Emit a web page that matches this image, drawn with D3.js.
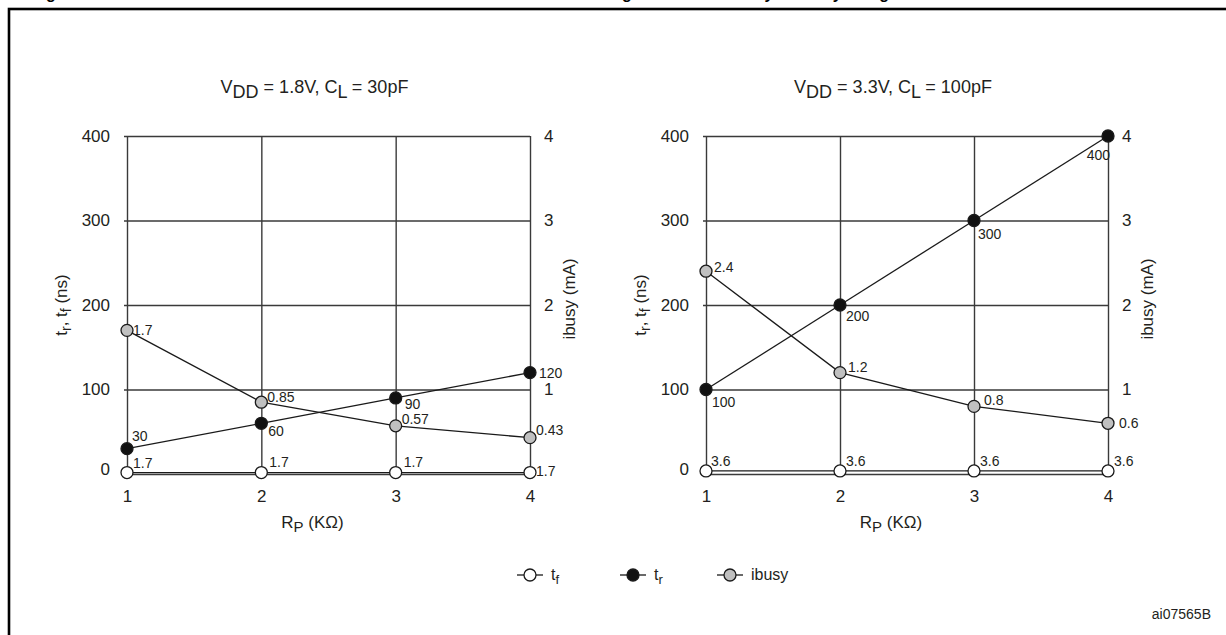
<!DOCTYPE html>
<html><head><meta charset="utf-8">
<script src="https://cdn.jsdelivr.net/npm/d3@7"></script>
<style>
html,body{margin:0;padding:0;background:#fff;}
svg{display:block;font-family:Arial,"Liberation Sans",sans-serif;}
</style></head>
<body><svg id="c" width="1226" height="635"></svg>
<script>
// ---- data ----
const rpValues = [1, 2, 3, 4];
const yTicksNs = [0, 100, 200, 300, 400];
const yTicksMa = [1, 2, 3, 4];
const xTicks = [1, 2, 3, 4];
// panel A: VDD = 1.8V, CL = 30pF
const tfA = [1.7, 1.7, 1.7, 1.7];
const trA = [30, 60, 90, 120];
const ibusyA = [1.7, 0.85, 0.57, 0.43];
// panel B: VDD = 3.3V, CL = 100pF
const tfB = [3.6, 3.6, 3.6, 3.6];
const trB = [100, 200, 300, 400];
const ibusyB = [2.4, 1.2, 0.8, 0.6];
const tfLabelsA = ["1.7", "1.7", "1.7", "1.7"];
const trLabelsA = ["30", "60", "90", "120"];
const ibLabelsA = ["1.7", "0.85", "0.57", "0.43"];
const tfLabelsB = ["3.6", "3.6", "3.6", "3.6"];
const trLabelsB = ["100", "200", "300", "400"];
const ibLabelsB = ["2.4", "1.2", "0.8", "0.6"];

// ---- layout ----
const svg = d3.select("#c");
const TXT = "#231f20", LINE = "#1a1a1a", GRID = "#3a3a3a";

// outer frame
svg.append("rect").attr("x", 9).attr("y", 9).attr("width", 1240).attr("height", 650)
  .attr("fill", "none").attr("stroke", "#000").attr("stroke-width", 2.6);
// figure title (mostly cut off at the top)
svg.append("text").attr("x", 22).attr("y", -1.5).attr("font-weight", "bold").attr("font-size", 16)
  .attr("textLength", 905).attr("lengthAdjust", "spacing").attr("fill", "#000")
  .text("Figure 37. Resistor value versus waveform timings for Ready/Busy signal");

const panels = [
  {x0: 127, x1: 530, vdd: "1.8V", cl: "30pF", tf: tfA, tr: trA, ib: ibusyA,
   tfL: tfLabelsA, trL: trLabelsA, ibL: ibLabelsA,
   tfOff: [[6,-9],[8,-10],[8,-10],[6,-1]],
   trOff: [[5,-13],[7,8],[9,6],[9,0]],
   trAnchor: ["start","start","start","start"],
   ibOff: [[6,0],[6,-5],[6,-7],[6,-8]]},
  {x0: 706, x1: 1108, vdd: "3.3V", cl: "100pF", tf: tfB, tr: trB, ib: ibusyB,
   tfL: tfLabelsB, trL: trLabelsB, ibL: ibLabelsB,
   tfOff: [[5,-10],[6,-10],[6,-10],[6,-10]],
   trOff: [[6,13],[6,11],[4,14],[2,19]],
   trAnchor: ["start","start","start","end"],
   ibOff: [[8,-4],[8,-6],[10,-6],[11,0]]}
];
const yTop = 136, yBot = 474;

panels.forEach(p => {
  const g = svg.append("g");
  const x = d3.scaleLinear().domain([1, 4]).range([p.x0, p.x1]);
  const y = d3.scaleLinear().domain([0, 400]).range([yBot, yTop]);
  const yR = d3.scaleLinear().domain([0, 4]).range([yBot, yTop]);

  // horizontal grid + left axis
  const ax = g.append("g").attr("transform", `translate(${p.x0},0)`)
    .call(d3.axisLeft(y).tickValues(yTicksNs).tickSize(-(p.x1 - p.x0)).tickSizeOuter(0).tickPadding(17).tickFormat(d3.format("d")));
  ax.select(".domain").remove();
  ax.selectAll(".tick line").attr("x1", -3).attr("stroke", GRID).attr("stroke-width", 1.4);
  ax.selectAll(".tick text").attr("font-size", 17).attr("fill", TXT).attr("font-family", "Arial, Liberation Sans, sans-serif").attr("dy", "0.3em");
  ax.selectAll(".tick").filter(d => d === 0).select("line").remove();
  ax.selectAll(".tick").filter(d => d === 0).select("text").attr("dy", "0.05em");

  // right axis labels
  const axR = g.append("g").attr("transform", `translate(${p.x1},0)`)
    .call(d3.axisRight(yR).tickValues(yTicksMa).tickSize(0).tickPadding(14).tickFormat(d3.format("d")));
  axR.select(".domain").remove();
  axR.selectAll(".tick text").attr("font-size", 17).attr("fill", TXT).attr("font-family", "Arial, Liberation Sans, sans-serif").attr("dy", "0.3em");

  // vertical grid + bottom axis
  const axB = g.append("g").attr("transform", `translate(0,${yBot})`)
    .call(d3.axisBottom(x).tickValues(xTicks).tickSize(-(yBot - yTop)).tickSizeOuter(0).tickPadding(16).tickFormat(d3.format("d")));
  axB.select(".domain").attr("stroke", GRID).attr("stroke-width", 1.4);
  axB.selectAll(".tick line").attr("stroke", GRID).attr("stroke-width", 1.4);
  axB.selectAll(".tick text").attr("font-size", 17).attr("fill", TXT).attr("font-family", "Arial, Liberation Sans, sans-serif");

  // panel title
  const cx = (p.x0 + p.x1) / 2 - 14;
  const t = g.append("text").attr("x", cx).attr("y", 93).attr("text-anchor", "middle")
    .attr("font-size", 18).attr("fill", TXT);
  t.append("tspan").text("V");
  t.append("tspan").attr("dy", 5).attr("font-size", 18).text("DD");
  t.append("tspan").attr("dy", -5).text(" = " + p.vdd + ", C");
  t.append("tspan").attr("dy", 5).text("L");
  t.append("tspan").attr("dy", -5).text(" = " + p.cl);

  // x label
  const xl = g.append("text").attr("x", (p.x0 + p.x1) / 2 - 16).attr("y", 528).attr("text-anchor", "middle")
    .attr("font-size", 17).attr("fill", TXT);
  xl.append("tspan").text("R");
  xl.append("tspan").attr("dy", 4).attr("font-size", 15).text("P");
  xl.append("tspan").attr("dy", -4).text(" (KΩ)");

  // left y label
  const yl = g.append("text").attr("transform", `translate(${p.x0 - 60},${305}) rotate(-90)`)
    .attr("text-anchor", "middle").attr("font-size", 17).attr("fill", TXT);
  yl.append("tspan").text("t");
  yl.append("tspan").attr("dy", 4).attr("font-size", 14).text("r");
  yl.append("tspan").attr("dy", -4).text(", t");
  yl.append("tspan").attr("dy", 4).attr("font-size", 14).text("f");
  yl.append("tspan").attr("dy", -4).text(" (ns)");

  // right y label
  g.append("text").attr("transform", `translate(${p.x1 + 45},${299}) rotate(-90)`)
    .attr("text-anchor", "middle").attr("font-size", 17).attr("fill", TXT).text("ibusy (mA)");

  const line = d3.line();
  const series = [
    {vals: p.tf, sc: y, fill: "#fff", lab: p.tfL, off: p.tfOff},
    {vals: p.ib, sc: yR, fill: "#c0c0c0", lab: p.ibL, off: p.ibOff},
    {vals: p.tr, sc: y, fill: "#111", lab: p.trL, off: p.trOff, anchor: p.trAnchor}
  ];
  series.forEach(s => {
    const pts = rpValues.map((r, i) => [x(r), s.sc(s.vals[i])]);
    g.append("path").attr("d", line(pts)).attr("fill", "none").attr("stroke", LINE).attr("stroke-width", 1.3);
  });
  series.forEach(s => {
    const pts = rpValues.map((r, i) => [x(r), s.sc(s.vals[i])]);
    g.selectAll(null).data(pts).enter().append("circle")
      .attr("cx", d => d[0]).attr("cy", d => d[1]).attr("r", 6)
      .attr("fill", s.fill).attr("stroke", LINE).attr("stroke-width", 1.3);
    g.selectAll(null).data(pts).enter().append("text")
      .attr("x", (d, i) => d[0] + s.off[i][0]).attr("y", (d, i) => d[1] + s.off[i][1])
      .attr("dy", "0.35em").attr("text-anchor", (d, i) => s.anchor ? s.anchor[i] : "start")
      .attr("font-size", 14).attr("fill", TXT).text((d, i) => s.lab[i]);
  });
});

// legend
const legend = [
  {x: 517, fill: "#fff", main: "t", sub: "f"},
  {x: 620, fill: "#111", main: "t", sub: "r"},
  {x: 717, fill: "#c0c0c0", main: "ibusy", sub: ""}
];
const ly = 575;
legend.forEach(l => {
  svg.append("line").attr("x1", l.x).attr("x2", l.x + 26).attr("y1", ly).attr("y2", ly)
    .attr("stroke", LINE).attr("stroke-width", 1.3);
  svg.append("circle").attr("cx", l.x + 13).attr("cy", ly).attr("r", 6)
    .attr("fill", l.fill).attr("stroke", LINE).attr("stroke-width", 1.3);
  const t = svg.append("text").attr("x", l.x + 34).attr("y", ly + 5).attr("font-size", 16).attr("fill", TXT);
  t.append("tspan").text(l.main);
  if (l.sub) t.append("tspan").attr("dy", 4).attr("font-size", 13).text(l.sub);
});

svg.append("text").attr("x", 1211).attr("y", 619).attr("text-anchor", "end")
  .attr("font-size", 14).attr("fill", TXT).text("ai07565B");
</script>
</body></html>
